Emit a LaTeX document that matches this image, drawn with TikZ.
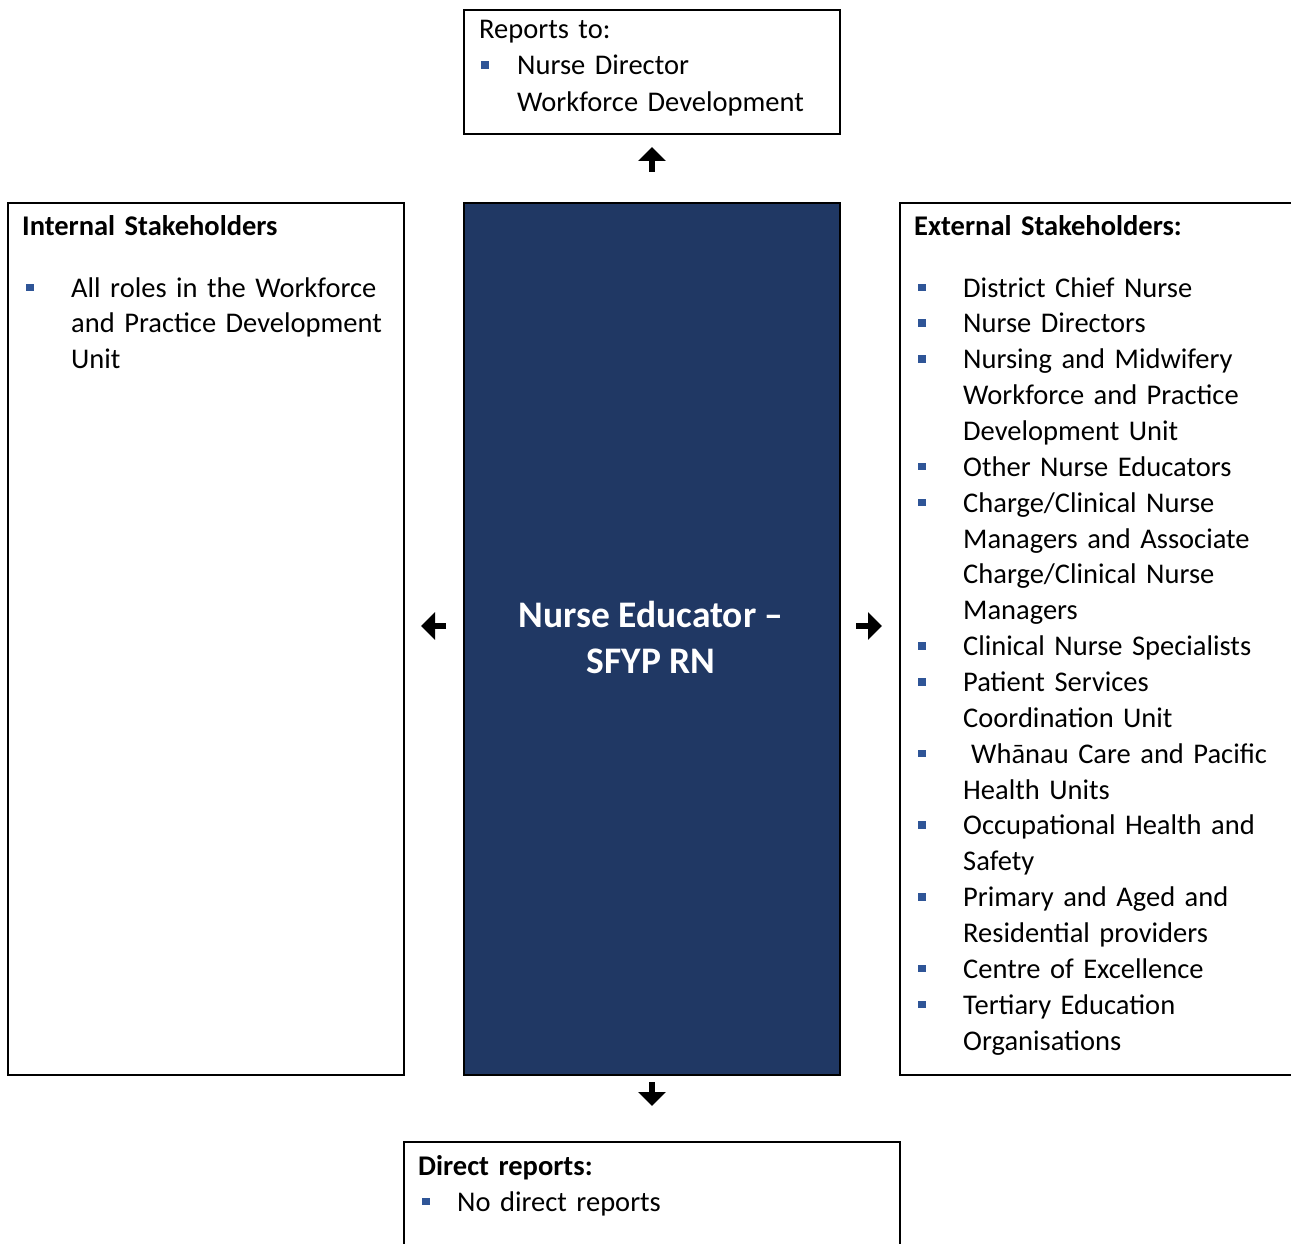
\documentclass[tikz,border=0pt]{standalone}
\usepackage{fontspec}
\setmainfont{Carlito}
\usetikzlibrary{arrows.meta}
\definecolor{navyfill}{HTML}{203864}
\definecolor{bulblue}{HTML}{2F5597}
\setlength\parindent{0pt}
\newcommand\sqbul[2]{\hspace*{#1}\raisebox{6pt}{\textcolor{bulblue}{\rule{7.5pt}{7.5pt}}}\hspace*{\dimexpr#2-#1-7.5pt\relax}}
\newcommand\indnt[1]{\hspace*{#1}}
\newcommand\tstrut{\rule{0pt}{25pt}}
\newcommand\bstrut{\rule{0pt}{32pt}}
\tikzset{
  box/.style={draw=black, line width=2pt, inner sep=0pt, anchor=north west},
  txt/.style={inner sep=0pt, anchor=north west, align=left, text width=#1},
  txt/.default=380pt,
  bodyfont/.style={font=\fontsize{28.5}{35.86}\selectfont},
  arr/.style={line width=6pt, -{Triangle[width=27pt,length=14pt]}},
}
\begin{document}
\begin{tikzpicture}[x=1pt,y=-1pt]
\useasboundingbox (0,0) rectangle (1291,1244);
\clip (0,0) rectangle (1291,1244);
% boxes
\node[box, minimum width=376pt, minimum height=124pt] (top) at (463,9) {};
\node[box, minimum width=396pt, minimum height=872pt] (left) at (7,202) {};
\node[box, fill=navyfill, minimum width=376pt, minimum height=872pt] (ctr) at (463,202) {};
\node[box, minimum width=430pt, minimum height=872pt] (right) at (899,202) {};
\node[box, minimum width=496pt, minimum height=140pt] (bot) at (403,1141) {};
% texts
\node[txt=360pt, font=\fontsize{28.5}{36.5}\selectfont] (toptxt) at (479,13) {%
\tstrut Reports to:\\
\sqbul{2pt}{38pt}Nurse Director\\
\indnt{38pt}Workforce Development};
\node[txt, bodyfont] (lefttxt) at (22,210) {%
\tstrut\textbf{Internal Stakeholders}\\[26pt]
\sqbul{4pt}{49pt}All roles in the Workforce\\
\indnt{49pt}and Practice Development\\
\indnt{49pt}Unit};
\node[inner sep=0pt, anchor=north, align=center, text=white, font=\fontsize{37.5}{46}\selectfont\bfseries] (ctrtxt) at (651,595) {%
\bstrut Nurse Educator --\\SFYP RN};
\node[txt, bodyfont] (righttxt) at (914,210) {%
\tstrut\textbf{External Stakeholders:}\\[26pt]
\sqbul{4pt}{49pt}District Chief Nurse\\
\sqbul{4pt}{49pt}Nurse Directors\\
\sqbul{4pt}{49pt}Nursing and Midwifery\\
\indnt{49pt}Workforce and Practice\\
\indnt{49pt}Development Unit\\
\sqbul{4pt}{49pt}Other Nurse Educators\\
\sqbul{4pt}{49pt}Charge/Clinical Nurse\\
\indnt{49pt}Managers and Associate\\
\indnt{49pt}Charge/Clinical Nurse\\
\indnt{49pt}Managers\\
\sqbul{4pt}{49pt}Clinical Nurse Specialists\\
\sqbul{4pt}{49pt}Patient Services\\
\indnt{49pt}Coordination Unit\\
\sqbul{4pt}{57pt}Whānau Care and Pacific\\
\indnt{49pt}Health Units\\
\sqbul{4pt}{49pt}Occupational Health and\\
\indnt{49pt}Safety\\
\sqbul{4pt}{49pt}Primary and Aged and\\
\indnt{49pt}Residential providers\\
\sqbul{4pt}{49pt}Centre of Excellence\\
\sqbul{4pt}{49pt}Tertiary Education\\
\indnt{49pt}Organisations};
\node[txt=460pt, font=\fontsize{28.5}{36}\selectfont] (bottxt) at (418,1150) {%
\tstrut\textbf{Direct reports:}\\
\sqbul{4pt}{39pt}No direct reports};
% arrows
\draw[arr, shorten <=30pt, shorten >=12pt] (ctr.north) -- (top.south);
\draw[arr, shorten <=6pt, shorten >=35pt] (ctr.south) -- (bot.north);
\draw[arr, shorten <=17pt, shorten >=16pt] ([yshift=13pt]ctr.west) -- ([yshift=13pt]left.east);
\draw[arr, shorten <=15pt, shorten >=17pt] ([yshift=13pt]ctr.east) -- ([yshift=13pt]right.west);
\end{tikzpicture}
\end{document}
